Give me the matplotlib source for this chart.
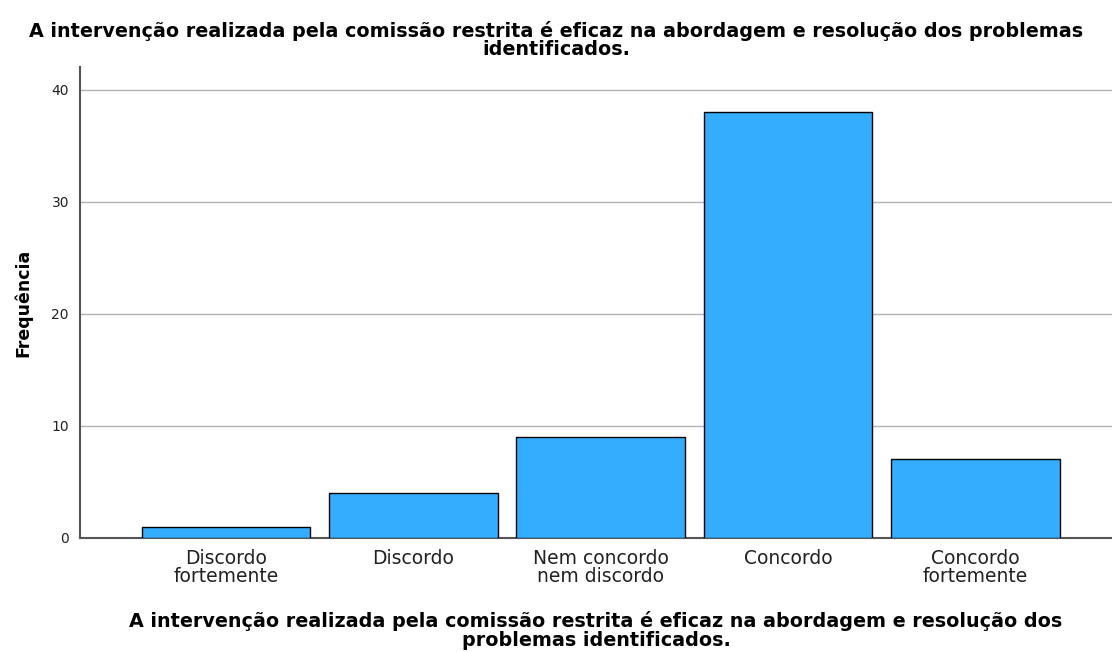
import numpy as np
import matplotlib.pyplot as plt

categories = ['Discordo\nfortemente', 'Discordo', 'Nem concordo\nnem discordo',
              'Concordo', 'Concordo\nfortemente']
counts = [1, 4, 9, 38, 7]
yticks = [0, 10, 20, 30, 40]

title = ('A intervenção realizada pela comissão restrita é eficaz na abordagem e resolução dos problemas\n'
         'identificados.')
xlabel = ('A intervenção realizada pela comissão restrita é eficaz na abordagem e resolução dos\n'
          'problemas identificados.')

barcol = '#33adff'
gridcol = '#b4b4b4'
spinecol = '#555555'

fig = plt.figure(figsize=(11.12, 6.52), dpi=100)
ax = fig.add_axes([0.072, 0.175, 0.928, 0.722])

x = np.arange(len(categories))
ax.bar(x, counts, width=0.9, color=barcol, edgecolor='black', linewidth=1.0, zorder=3)

ax.set_xlim(-0.78, 4.73)
ax.set_ylim(0, 42)
ax.set_yticks(yticks)
ax.set_xticks(x)
ax.set_xticklabels(categories, fontsize=13.5, linespacing=0.95, color='#222222')
ax.tick_params(axis='both', length=0)
ax.tick_params(axis='y', labelsize=10, pad=8, colors='#222222')
ax.tick_params(axis='x', pad=8)

ax.grid(axis='y', color=gridcol, linewidth=1.0, zorder=0)
for s in ['top', 'right']:
    ax.spines[s].set_visible(False)
ax.spines['left'].set_color(spinecol)
ax.spines['bottom'].set_color(spinecol)
ax.spines['left'].set_linewidth(1.5)
ax.spines['bottom'].set_linewidth(1.5)

ax.set_ylabel('Frequência', fontsize=12.5, fontweight='bold', labelpad=14)
ax.set_xlabel(xlabel, fontsize=13.8, fontweight='bold', linespacing=0.95, labelpad=18)
fig.text(0.5, 0.968, title, ha='center', va='top', fontsize=13.8, fontweight='bold',
         linespacing=0.95)

fig.savefig('out.png', dpi=100, facecolor='white')
